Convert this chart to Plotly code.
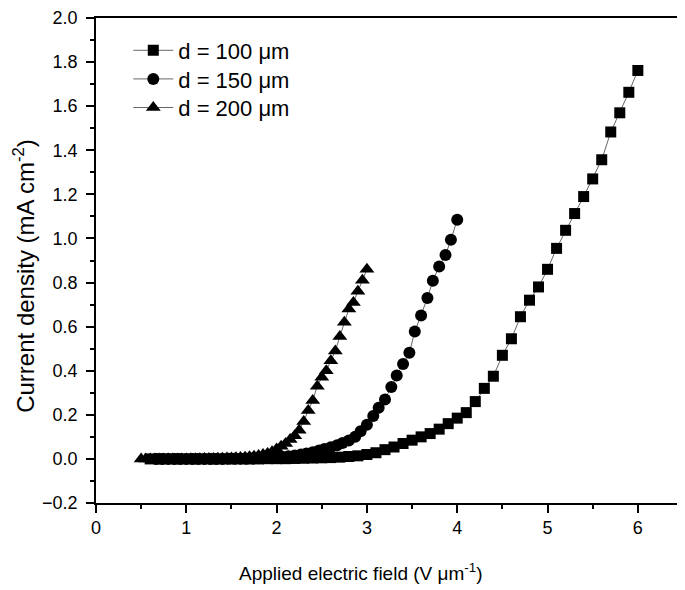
import plotly.graph_objects as go

# d = 100 um (squares)
x_100 = [0.6, 0.7, 0.8, 0.9, 1.0, 1.1, 1.2, 1.3, 1.4, 1.5, 1.6, 1.7, 1.8, 1.9, 2.0,
         2.1, 2.2, 2.3, 2.4, 2.5, 2.6, 2.7, 2.8, 2.9, 3.0, 3.1, 3.2, 3.3, 3.4, 3.5,
         3.6, 3.7, 3.8, 3.9, 4.0, 4.1, 4.2, 4.3, 4.4, 4.5, 4.6, 4.7, 4.8, 4.9, 5.0,
         5.1, 5.2, 5.3, 5.4, 5.5, 5.6, 5.7, 5.8, 5.9, 6.0]
j_100 = [0.0, 0.0, 0.0, 0.0, 0.0, 0.0, 0.0, 0.0, 0.0, 0.0, 0.0, 0.0, 0.0, 0.001, 0.001,
         0.001, 0.002, 0.003, 0.004, 0.005, 0.006, 0.008, 0.011, 0.014, 0.02, 0.028, 0.042, 0.054, 0.07, 0.085,
         0.10, 0.115, 0.135, 0.16, 0.185, 0.21, 0.26, 0.32, 0.375, 0.47, 0.545, 0.645, 0.72, 0.78, 0.86,
         0.955, 1.037, 1.113, 1.19, 1.27, 1.357, 1.483, 1.57, 1.663, 1.762]

# d = 150 um (circles)
x_150 = [0.67, 0.73, 0.80, 0.87, 0.93, 1.00, 1.07, 1.13, 1.20, 1.27, 1.33, 1.40, 1.47, 1.53,
         1.60, 1.67, 1.73, 1.80, 1.87, 1.93, 2.00, 2.07, 2.13, 2.20, 2.27, 2.33, 2.40, 2.47,
         2.53, 2.60, 2.67, 2.73, 2.80, 2.87, 2.93, 3.00, 3.07, 3.13, 3.20, 3.27, 3.33, 3.40,
         3.47, 3.53, 3.60, 3.67, 3.73, 3.80, 3.87, 3.93, 4.00]
j_150 = [0.0, 0.0, 0.0, 0.0, 0.0, 0.0, 0.0, 0.0, 0.0, 0.0, 0.0, 0.0, 0.001, 0.001,
         0.001, 0.001, 0.002, 0.003, 0.004, 0.005, 0.007, 0.009, 0.012, 0.015, 0.02, 0.025, 0.03, 0.038,
         0.045, 0.053, 0.062, 0.072, 0.083, 0.10, 0.125, 0.155, 0.195, 0.232, 0.27, 0.326, 0.378, 0.43,
         0.482, 0.578, 0.65, 0.73, 0.808, 0.873, 0.925, 0.994, 1.085]

# d = 200 um (triangles)
x_200 = [0.50, 0.55, 0.60, 0.65, 0.70, 0.75, 0.80, 0.85, 0.90, 0.95, 1.00, 1.05, 1.10, 1.15,
         1.20, 1.25, 1.30, 1.35, 1.40, 1.45, 1.50, 1.55, 1.60, 1.65, 1.70, 1.75, 1.80, 1.85,
         1.90, 1.95, 2.00, 2.05, 2.10, 2.15, 2.20, 2.25, 2.30, 2.35, 2.40, 2.45, 2.50, 2.55,
         2.60, 2.65, 2.70, 2.75, 2.80, 2.85, 2.90, 2.95, 3.00]
j_200 = [0.0, 0.0, 0.0, 0.0, 0.0, 0.0, 0.0, 0.0, 0.0, 0.0, 0.0, 0.001, 0.001, 0.001,
         0.002, 0.002, 0.002, 0.003, 0.003, 0.004, 0.004, 0.005, 0.006, 0.008, 0.01, 0.012, 0.015, 0.02,
         0.025, 0.033, 0.045, 0.057, 0.07, 0.088, 0.105, 0.13, 0.17, 0.22, 0.265, 0.33, 0.37, 0.40,
         0.445, 0.49, 0.555, 0.62, 0.68, 0.71, 0.76, 0.81, 0.86]

names = ["d = 100 μm", "d = 150 μm", "d = 200 μm"]
symbols = ["square", "circle", "triangle-up"]
sizes = [11, 12, 13]
legend_ids = ["legend", "legend2", "legend3"]
legend_rows = [0.933, 0.874, 0.815]

FAM = "Liberation Sans, Arial, sans-serif"

fig = go.Figure()
for xs, ys, nm, sym, sz, lg in zip([x_100, x_150, x_200], [j_100, j_150, j_200],
                                   names, symbols, sizes, legend_ids):
    fig.add_trace(go.Scatter(
        x=xs, y=ys, name=nm, mode="lines+markers", legend=lg,
        line=dict(color="#666666", width=1),
        marker=dict(symbol=sym, size=sz, color="black", line=dict(width=0)),
    ))

legend_style = dict(x=0.055, xanchor="left", yanchor="middle",
                    font=dict(family=FAM, size=22, color="black"),
                    bgcolor="rgba(0,0,0,0)", itemwidth=40)

axis_font = dict(family=FAM, size=18, color="black")
fig.update_layout(
    width=677, height=582,
    margin=dict(l=88, r=2, t=10, b=87, autoexpand=False),
    paper_bgcolor="white", plot_bgcolor="white",
    font=dict(family=FAM, color="black"),
    showlegend=True,
    legend=dict(y=legend_rows[0], **legend_style),
    legend2=dict(y=legend_rows[1], **legend_style),
    legend3=dict(y=legend_rows[2], **legend_style),
    xaxis=dict(
        range=[0, 6.5], dtick=1, tick0=0, showgrid=False, zeroline=False,
        showline=True, linecolor="black", linewidth=1.5, mirror=True,
        ticks="outside", ticklen=8, tickwidth=1.5, tickcolor="black",
        minor=dict(dtick=0.5, ticks="outside", ticklen=4, tickwidth=1.5, tickcolor="black", showgrid=False),
        tickfont=axis_font, ticklabeloverflow="allow",
    ),
    yaxis=dict(
        range=[-0.2, 2.0], dtick=0.2, tick0=0, tickformat=".1f", showgrid=False, zeroline=False,
        showline=True, linecolor="black", linewidth=1.5, mirror=True,
        ticks="outside", ticklen=8, tickwidth=1.5, tickcolor="black",
        minor=dict(dtick=0.1, ticks="outside", ticklen=4, tickwidth=1.5, tickcolor="black", showgrid=False),
        tickfont=axis_font, ticklabeloverflow="allow", ticklabelstandoff=5,
    ),
    annotations=[
        dict(text="Current density (mA cm<sup>-2</sup>)", textangle=-90,
             xref="paper", yref="paper", x=-0.123, y=0.468,
             xanchor="center", yanchor="middle", showarrow=False,
             font=dict(family=FAM, size=24, color="black")),
        dict(text="Applied electric field (V μm<sup>-1</sup>)",
             xref="paper", yref="paper", x=0.45, y=-0.142,
             xanchor="center", yanchor="middle", showarrow=False,
             font=dict(family=FAM, size=19, color="black")),
    ],
)

fig.write_html("out.html")
